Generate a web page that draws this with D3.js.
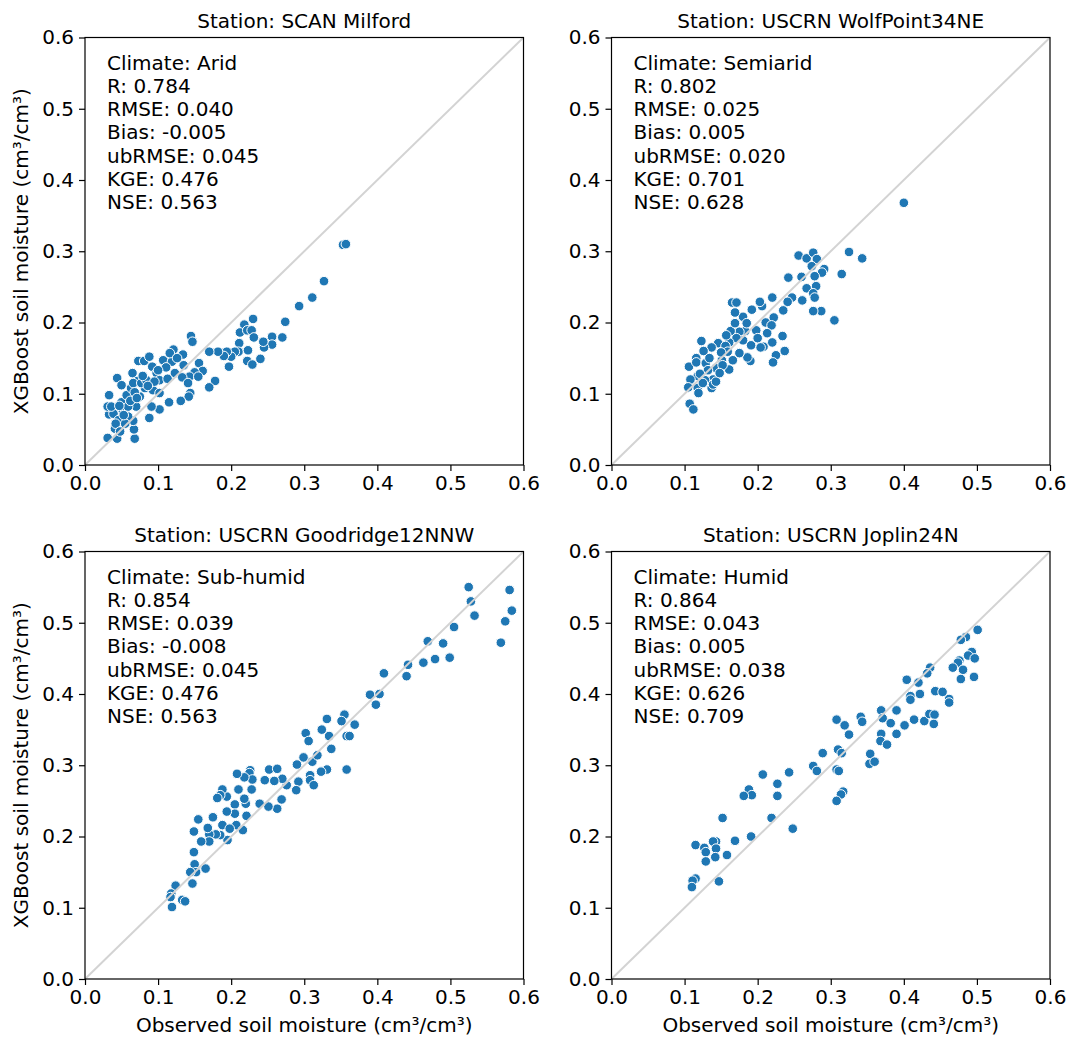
<!DOCTYPE html>
<html>
<head>
<meta charset="utf-8">
<script src="https://cdn.jsdelivr.net/npm/d3@7"></script>
<style>
  body { margin: 0; background: #fff; }
  svg text { font-family: "DejaVu Sans", sans-serif; fill: #000; }
</style>
</head>
<body>
<svg id="viz" width="1071" height="1042"></svg>
<script>
// observed / predicted soil moisture per station (cm3/cm3)
const milfordObs = [0.353,0.357,0.327,0.311,0.293,0.274,0.270,0.256,0.256,0.245,0.244,0.240,0.230,0.218,0.212,0.222,0.228,0.231,0.211,0.210,0.223,0.222,0.229,0.205,0.200,0.194,0.190,0.182,0.197,0.170,0.178,0.170,0.156,0.161,0.150,0.145,0.147,0.134,0.135,0.143,0.144,0.142,0.131,0.115,0.102,0.088,0.068,0.067,0.066,0.044,0.031,0.041,0.033,0.031,0.033,0.044,0.050,0.050,0.065,0.072,0.073,0.081,0.088,0.092,0.098,0.107,0.119,0.121,0.116,0.111,0.102,0.093,0.082,0.070,0.059,0.057,0.063,0.075,0.091,0.102,0.039,0.046,0.052,0.059,0.066,0.077,0.084,0.095,0.123,0.133,0.141,0.155,0.036,0.042,0.048,0.055,0.062,0.068,0.079,0.086,0.053,0.047,0.071,0.100,0.113,0.126];
const milfordPred = [0.309,0.310,0.258,0.235,0.223,0.201,0.179,0.180,0.169,0.165,0.173,0.149,0.205,0.197,0.186,0.189,0.189,0.179,0.171,0.159,0.161,0.146,0.141,0.159,0.152,0.159,0.153,0.159,0.138,0.159,0.118,0.109,0.143,0.132,0.130,0.181,0.173,0.155,0.140,0.124,0.101,0.096,0.090,0.088,0.078,0.066,0.037,0.050,0.062,0.037,0.038,0.051,0.071,0.082,0.098,0.122,0.088,0.112,0.129,0.118,0.146,0.146,0.152,0.138,0.129,0.147,0.145,0.162,0.157,0.137,0.119,0.105,0.108,0.082,0.068,0.098,0.108,0.096,0.082,0.101,0.072,0.063,0.075,0.082,0.115,0.115,0.119,0.117,0.129,0.123,0.115,0.124,0.082,0.058,0.047,0.058,0.090,0.102,0.125,0.111,0.070,0.083,0.094,0.133,0.121,0.150];

const wolfObs = [0.400,0.325,0.343,0.315,0.305,0.287,0.276,0.256,0.267,0.276,0.281,0.274,0.291,0.288,0.278,0.260,0.242,0.280,0.267,0.276,0.278,0.261,0.247,0.241,0.235,0.220,0.206,0.203,0.192,0.180,0.169,0.165,0.171,0.222,0.211,0.219,0.234,0.213,0.198,0.183,0.175,0.163,0.200,0.220,0.208,0.204,0.191,0.180,0.171,0.161,0.146,0.156,0.123,0.237,0.225,0.221,0.190,0.186,0.175,0.166,0.151,0.159,0.137,0.126,0.116,0.106,0.116,0.129,0.143,0.161,0.152,0.139,0.128,0.118,0.108,0.105,0.118,0.119,0.137,0.139,0.143,0.107,0.112,0.132,0.125,0.148,0.169,0.185,0.150,0.134,0.121,0.157];
const wolfPred = [0.368,0.299,0.290,0.268,0.203,0.216,0.216,0.294,0.290,0.298,0.289,0.279,0.275,0.270,0.265,0.264,0.263,0.251,0.248,0.241,0.235,0.231,0.235,0.229,0.217,0.235,0.223,0.229,0.218,0.208,0.214,0.228,0.228,0.207,0.200,0.196,0.181,0.185,0.189,0.188,0.187,0.188,0.178,0.172,0.166,0.165,0.168,0.175,0.178,0.172,0.171,0.167,0.174,0.160,0.154,0.144,0.146,0.151,0.157,0.147,0.147,0.159,0.165,0.160,0.150,0.138,0.144,0.143,0.136,0.134,0.140,0.120,0.119,0.125,0.120,0.109,0.108,0.101,0.108,0.113,0.117,0.086,0.078,0.133,0.115,0.129,0.199,0.199,0.158,0.150,0.128,0.182];

const goodObs = [0.525,0.581,0.528,0.584,0.533,0.575,0.505,0.569,0.469,0.490,0.499,0.479,0.463,0.442,0.440,0.409,0.390,0.403,0.398,0.369,0.355,0.351,0.331,0.324,0.334,0.358,0.362,0.337,0.302,0.306,0.299,0.311,0.318,0.290,0.358,0.331,0.323,0.308,0.308,0.313,0.292,0.289,0.276,0.270,0.259,0.246,0.252,0.263,0.269,0.263,0.251,0.239,0.226,0.225,0.229,0.218,0.208,0.228,0.210,0.220,0.218,0.205,0.205,0.221,0.207,0.216,0.194,0.194,0.188,0.185,0.181,0.188,0.198,0.195,0.185,0.179,0.170,0.168,0.170,0.159,0.175,0.155,0.149,0.149,0.150,0.152,0.144,0.165,0.147,0.124,0.118,0.117,0.133,0.137,0.119];
const goodPred = [0.550,0.546,0.530,0.517,0.510,0.502,0.494,0.472,0.474,0.471,0.451,0.449,0.444,0.441,0.425,0.429,0.399,0.400,0.385,0.357,0.371,0.362,0.365,0.350,0.341,0.341,0.341,0.323,0.345,0.334,0.311,0.305,0.314,0.301,0.294,0.294,0.291,0.286,0.279,0.272,0.277,0.265,0.272,0.281,0.278,0.279,0.294,0.295,0.252,0.239,0.242,0.246,0.293,0.289,0.280,0.283,0.288,0.266,0.266,0.246,0.253,0.245,0.232,0.229,0.216,0.209,0.235,0.256,0.266,0.258,0.254,0.216,0.211,0.195,0.202,0.203,0.203,0.212,0.193,0.193,0.227,0.224,0.207,0.178,0.161,0.150,0.150,0.155,0.134,0.131,0.120,0.115,0.111,0.109,0.101];

const joplinObs = [0.501,0.485,0.478,0.493,0.488,0.497,0.476,0.474,0.467,0.481,0.478,0.496,0.436,0.432,0.420,0.404,0.443,0.453,0.462,0.462,0.422,0.409,0.409,0.390,0.369,0.371,0.382,0.401,0.414,0.428,0.435,0.442,0.441,0.390,0.369,0.368,0.377,0.341,0.343,0.308,0.319,0.325,0.310,0.315,0.354,0.353,0.360,0.289,0.276,0.281,0.308,0.311,0.243,0.207,0.227,0.227,0.188,0.192,0.181,0.317,0.314,0.308,0.219,0.248,0.152,0.191,0.169,0.143,0.139,0.115,0.127,0.143,0.129,0.158,0.142,0.129,0.147,0.115,0.111,0.110];
const joplinPred = [0.490,0.480,0.476,0.459,0.454,0.450,0.447,0.444,0.437,0.434,0.421,0.424,0.437,0.429,0.416,0.420,0.404,0.403,0.393,0.388,0.400,0.397,0.392,0.377,0.377,0.366,0.359,0.356,0.364,0.362,0.372,0.371,0.358,0.344,0.344,0.334,0.329,0.368,0.361,0.364,0.356,0.343,0.322,0.317,0.316,0.302,0.305,0.317,0.299,0.292,0.294,0.292,0.290,0.287,0.274,0.257,0.266,0.258,0.257,0.263,0.259,0.250,0.226,0.211,0.226,0.200,0.194,0.193,0.193,0.188,0.184,0.183,0.178,0.174,0.171,0.165,0.137,0.141,0.138,0.129];

const stations = ["SCAN Milford", "USCRN WolfPoint34NE", "USCRN Goodridge12NNW", "USCRN Joplin24N"];
const climates = ["Arid", "Semiarid", "Sub-humid", "Humid"];
const statR      = ["0.784", "0.802", "0.854", "0.864"];
const statRMSE   = ["0.040", "0.025", "0.039", "0.043"];
const statBias   = ["-0.005", "0.005", "-0.008", "0.005"];
const statUbRMSE = ["0.045", "0.020", "0.045", "0.038"];
const statKGE    = ["0.476", "0.701", "0.476", "0.626"];
const statNSE    = ["0.563", "0.628", "0.563", "0.709"];

const ticks = [0, 0.1, 0.2, 0.3, 0.4, 0.5, 0.6];

const obsSeries = [milfordObs, wolfObs, goodObs, joplinObs];
const predSeries = [milfordPred, wolfPred, goodPred, joplinPred];

// layout
const PANEL_W = 438.5, PANEL_H = 427.5;
const COL_X = [85, 611.5];
const ROW_Y = [37.5, 551.5];
const FONT = 20;

const svg = d3.select("#viz");

stations.forEach((name, i) => {
  const col = i % 2, row = Math.floor(i / 2);
  const g = svg.append("g").attr("transform", `translate(${COL_X[col]},${ROW_Y[row]})`);

  const x = d3.scaleLinear().domain([0, 0.6]).range([0, PANEL_W]);
  const y = d3.scaleLinear().domain([0, 0.6]).range([PANEL_H, 0]);

  const pts = obsSeries[i].map((o, k) => ({ o, p: predSeries[i][k] }));

  g.append("g").selectAll("circle")
    .data(pts)
    .join("circle")
    .attr("cx", d => x(d.o))
    .attr("cy", d => y(d.p))
    .attr("r", 4.8)
    .attr("fill", "#1f77b4")
    .attr("stroke", "#fff")
    .attr("stroke-width", 1);

  // 1:1 line
  g.append("line")
    .attr("x1", x(0)).attr("y1", y(0))
    .attr("x2", x(0.6)).attr("y2", y(0.6))
    .attr("stroke", "#d3d3d3")
    .attr("stroke-width", 2);

  const xAxis = g.append("g")
    .attr("transform", `translate(0,${PANEL_H})`)
    .call(d3.axisBottom(x).tickValues(ticks).tickFormat(d3.format(".1f")).tickSizeOuter(0).tickSize(6).tickPadding(5));
  const yAxis = g.append("g")
    .call(d3.axisLeft(y).tickValues(ticks).tickFormat(d3.format(".1f")).tickSizeOuter(0).tickSize(6).tickPadding(5));

  [xAxis, yAxis].forEach(a => {
    a.select(".domain").remove();
    a.selectAll("line").attr("stroke", "#000").attr("stroke-width", 1.2);
    a.selectAll("text").attr("font-size", FONT).attr("font-family", "DejaVu Sans").attr("fill", "#000");
  });

  // frame
  g.append("rect")
    .attr("width", PANEL_W).attr("height", PANEL_H)
    .attr("fill", "none").attr("stroke", "#000").attr("stroke-width", 1.2);

  g.append("text")
    .attr("x", PANEL_W / 2).attr("y", -10)
    .attr("text-anchor", "middle")
    .attr("font-size", FONT)
    .text("Station: " + name);

  const lines = [
    "Climate: " + climates[i],
    "R: " + statR[i],
    "RMSE: " + statRMSE[i],
    "Bias: " + statBias[i],
    "ubRMSE: " + statUbRMSE[i],
    "KGE: " + statKGE[i],
    "NSE: " + statNSE[i]
  ];
  g.append("g").selectAll("text")
    .data(lines)
    .join("text")
    .attr("x", 22)
    .attr("y", (d, k) => 32 + k * 23.3)
    .attr("font-size", FONT)
    .text(d => d);

  if (col === 0) {
    g.append("text")
      .attr("transform", `translate(-57,${PANEL_H / 2}) rotate(-90)`)
      .attr("text-anchor", "middle")
      .attr("font-size", FONT)
      .text("XGBoost soil moisture (cm³/cm³)");
  }
  if (row === 1) {
    g.append("text")
      .attr("x", PANEL_W / 2).attr("y", PANEL_H + 53)
      .attr("text-anchor", "middle")
      .attr("font-size", FONT)
      .text("Observed soil moisture (cm³/cm³)");
  }
});
</script>
</body>
</html>
